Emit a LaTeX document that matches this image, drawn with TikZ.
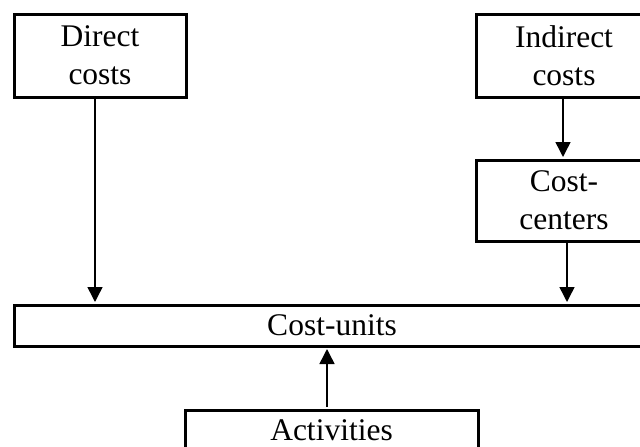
\documentclass[tikz,border=0pt]{standalone}
\usepackage{fontspec}
\setmainfont{Liberation Serif}
\usetikzlibrary{arrows.meta}
\begin{document}
\begin{tikzpicture}[x=1pt,y=-1pt,
  box/.style={draw,line width=3pt,inner sep=0pt,align=center,
    font=\fontsize{31.5}{38}\selectfont},
  arr/.style={line width=1.5pt,-{Triangle[length=15pt,width=15pt]},shorten >=1.5pt}]
\useasboundingbox (0,0) rectangle (640,447);
% boxes (centre, size)
\node[box,minimum width=172pt,minimum height=83pt] (direct) at (100,55.5) {Direct\\costs};
\node[box,minimum width=176pt,minimum height=83pt] (indirect) at (564,55.5) {Indirect\\costs};
\node[box,minimum width=176pt,minimum height=81pt] (centers) at (564,200.5) {Cost-\\centers};
\node[box,minimum width=636pt,minimum height=41pt] (units) at (332,325.5) {Cost-units};
\node[box,minimum width=293pt,minimum height=41pt] (activities) at (331.5,430.5) {Activities};
% connectors
\draw[arr] ([xshift=-5pt]direct.south) -- ([xshift=-5pt]direct.south |- units.north);
\draw[arr] ([xshift=-1pt]indirect.south) -- ([xshift=-1pt]indirect.south |- centers.north);
\draw[arr] ([xshift=3pt]centers.south) -- ([xshift=3pt]centers.south |- units.north);
\draw[arr,shorten <=1.5pt] ([xshift=-4.5pt]activities.north) -- ([xshift=-4.5pt]activities.north |- units.south);
\end{tikzpicture}
\end{document}
